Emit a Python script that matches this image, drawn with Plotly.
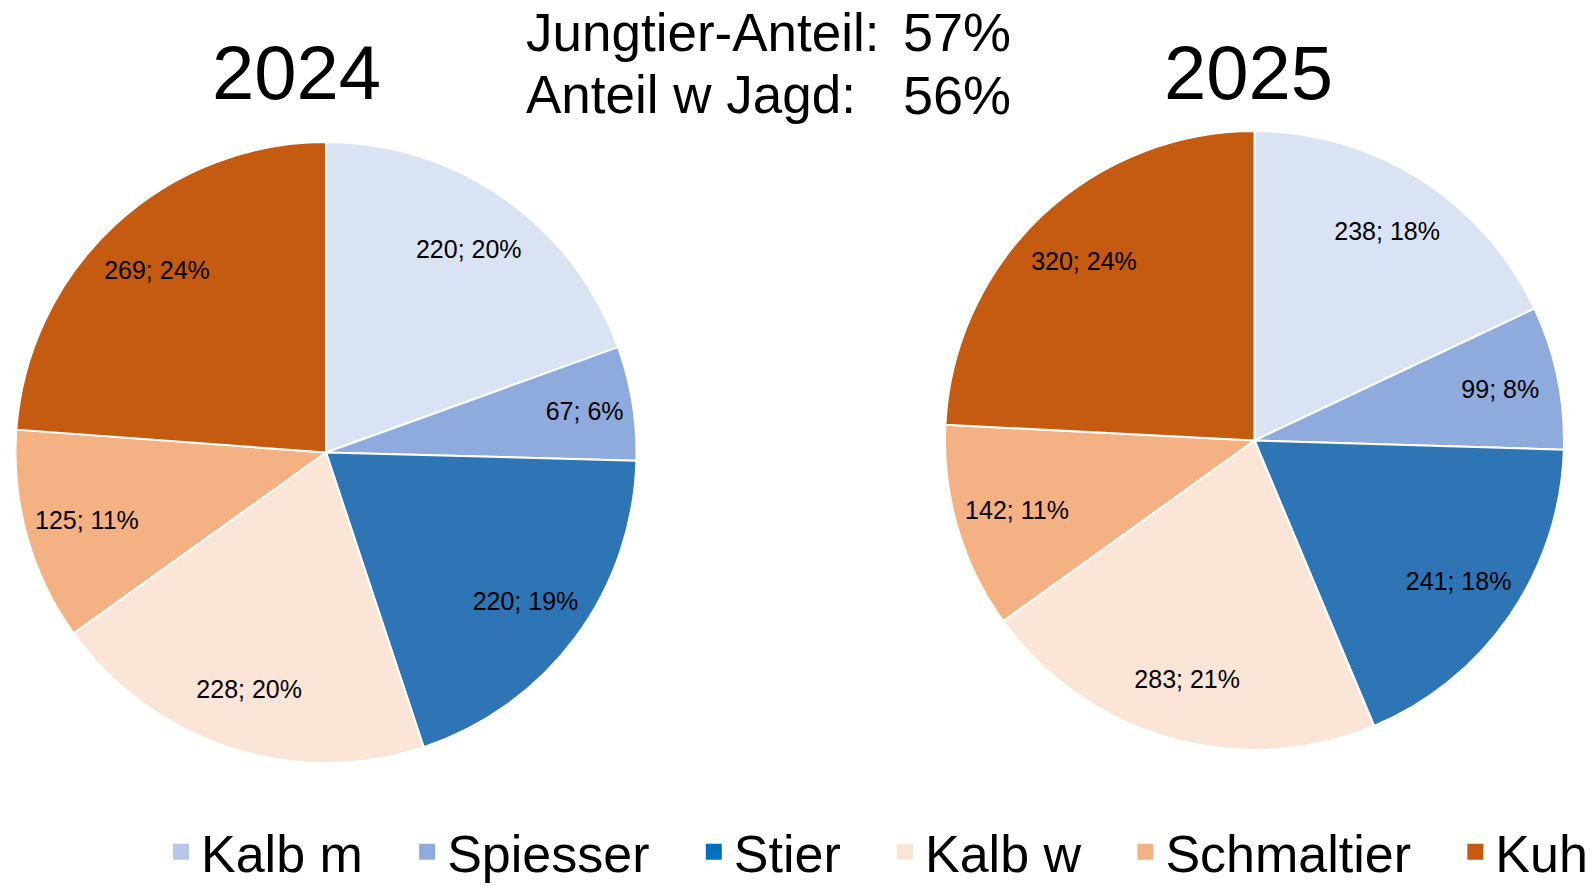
import plotly.graph_objects as go

categories = ["Kalb m", "Spiesser", "Stier", "Kalb w", "Schmaltier", "Kuh"]
values_2024 = [220, 67, 220, 228, 125, 269]
pct_2024 = [20, 6, 19, 20, 11, 24]
values_2025 = [238, 99, 241, 283, 142, 320]
pct_2025 = [18, 8, 18, 21, 11, 24]
years = ["2024", "2025"]
info_labels = ["Jungtier-Anteil:", "Anteil w Jagd:"]
info_values = ["57%", "56%"]

slice_colors = ["#DAE3F3", "#8FAADC", "#2E75B6", "#FBE5D6", "#F4B183", "#C55A11"]
legend_colors = ["#B4C7E7", "#8FAADC", "#0070C0", "#FBE5D6", "#F4B183", "#C55A11"]

W, H = 1595, 886
FONT = "Liberation Sans, Arial, sans-serif"

def px_x(x):
    return x / W

def px_y(y):
    return 1 - y / H

fig = go.Figure()

pies = [
    (values_2024, pct_2024, [px_x(15), px_x(637)], [px_y(763), px_y(142)]),
    (values_2025, pct_2025, [px_x(945), px_x(1564)], [px_y(751), px_y(130)]),
]
for vals, pcts, dx, dy in pies:
    # filled pie with white slice borders
    fig.add_trace(go.Pie(
        labels=categories,
        values=vals,
        textinfo="none",
        marker=dict(colors=slice_colors, line=dict(color="white", width=2)),
        sort=False,
        direction="clockwise",
        rotation=0,
        domain=dict(x=dx, y=dy),
        showlegend=False,
        hoverinfo="label+value+percent",
    ))
    # transparent ring carrying the data labels in the outer part of the slices
    fig.add_trace(go.Pie(
        labels=categories,
        values=vals,
        hole=0.6,
        text=[f"{v}; {p}%" for v, p in zip(vals, pcts)],
        textinfo="text",
        textposition="inside",
        insidetextorientation="horizontal",
        textfont=dict(family=FONT, size=25, color="black"),
        marker=dict(colors=["rgba(0,0,0,0)"] * len(vals), line=dict(width=0)),
        sort=False,
        direction="clockwise",
        rotation=0,
        domain=dict(x=dx, y=dy),
        showlegend=False,
        hoverinfo="skip",
    ))

pad = "\u00a0\u00a0\u2009"
for i, (name, col) in enumerate(zip(categories, legend_colors)):
    fig.add_trace(go.Scatter(
        x=[None], y=[None], mode="markers",
        name=name + (pad if i < len(categories) - 1 else ""),
        marker=dict(symbol="square", size=20, color=col),
        showlegend=True, hoverinfo="skip",
    ))

annotations = [
    dict(text=years[0], x=px_x(296), y=px_y(72), xanchor="center", yanchor="middle",
         font=dict(family=FONT, size=76, color="black")),
    dict(text=years[1], x=px_x(1248), y=px_y(72), xanchor="center", yanchor="middle",
         font=dict(family=FONT, size=76, color="black")),
]
for i, (lab, val) in enumerate(zip(info_labels, info_values)):
    yc = [32, 95][i]
    annotations.append(dict(text=lab, x=px_x(524), y=px_y(yc), xanchor="left", yanchor="middle",
                            font=dict(family=FONT, size=53, color="black")))
    annotations.append(dict(text=val, x=px_x(1013), y=px_y(yc), xanchor="right", yanchor="middle",
                            font=dict(family=FONT, size=54, color="black")))
for a in annotations:
    a.update(xref="paper", yref="paper", showarrow=False)

fig.update_layout(
    width=W, height=H,
    margin=dict(l=0, r=0, t=0, b=0, autoexpand=False),
    paper_bgcolor="white", plot_bgcolor="white",
    xaxis=dict(visible=False), yaxis=dict(visible=False),
    annotations=annotations,
    legend=dict(orientation="h", x=px_x(161), y=px_y(852), xanchor="left", yanchor="middle",
                xref="container", yref="container",
                font=dict(family=FONT, size=52, color="black"),
                bgcolor="rgba(0,0,0,0)", traceorder="normal"),
)

# remove the default 8px page margin so the figure fills the window exactly
fig.write_html("out.html",
               config={"displayModeBar": False},
               post_script="document.body.style.margin='0';document.body.style.overflow='hidden';")
